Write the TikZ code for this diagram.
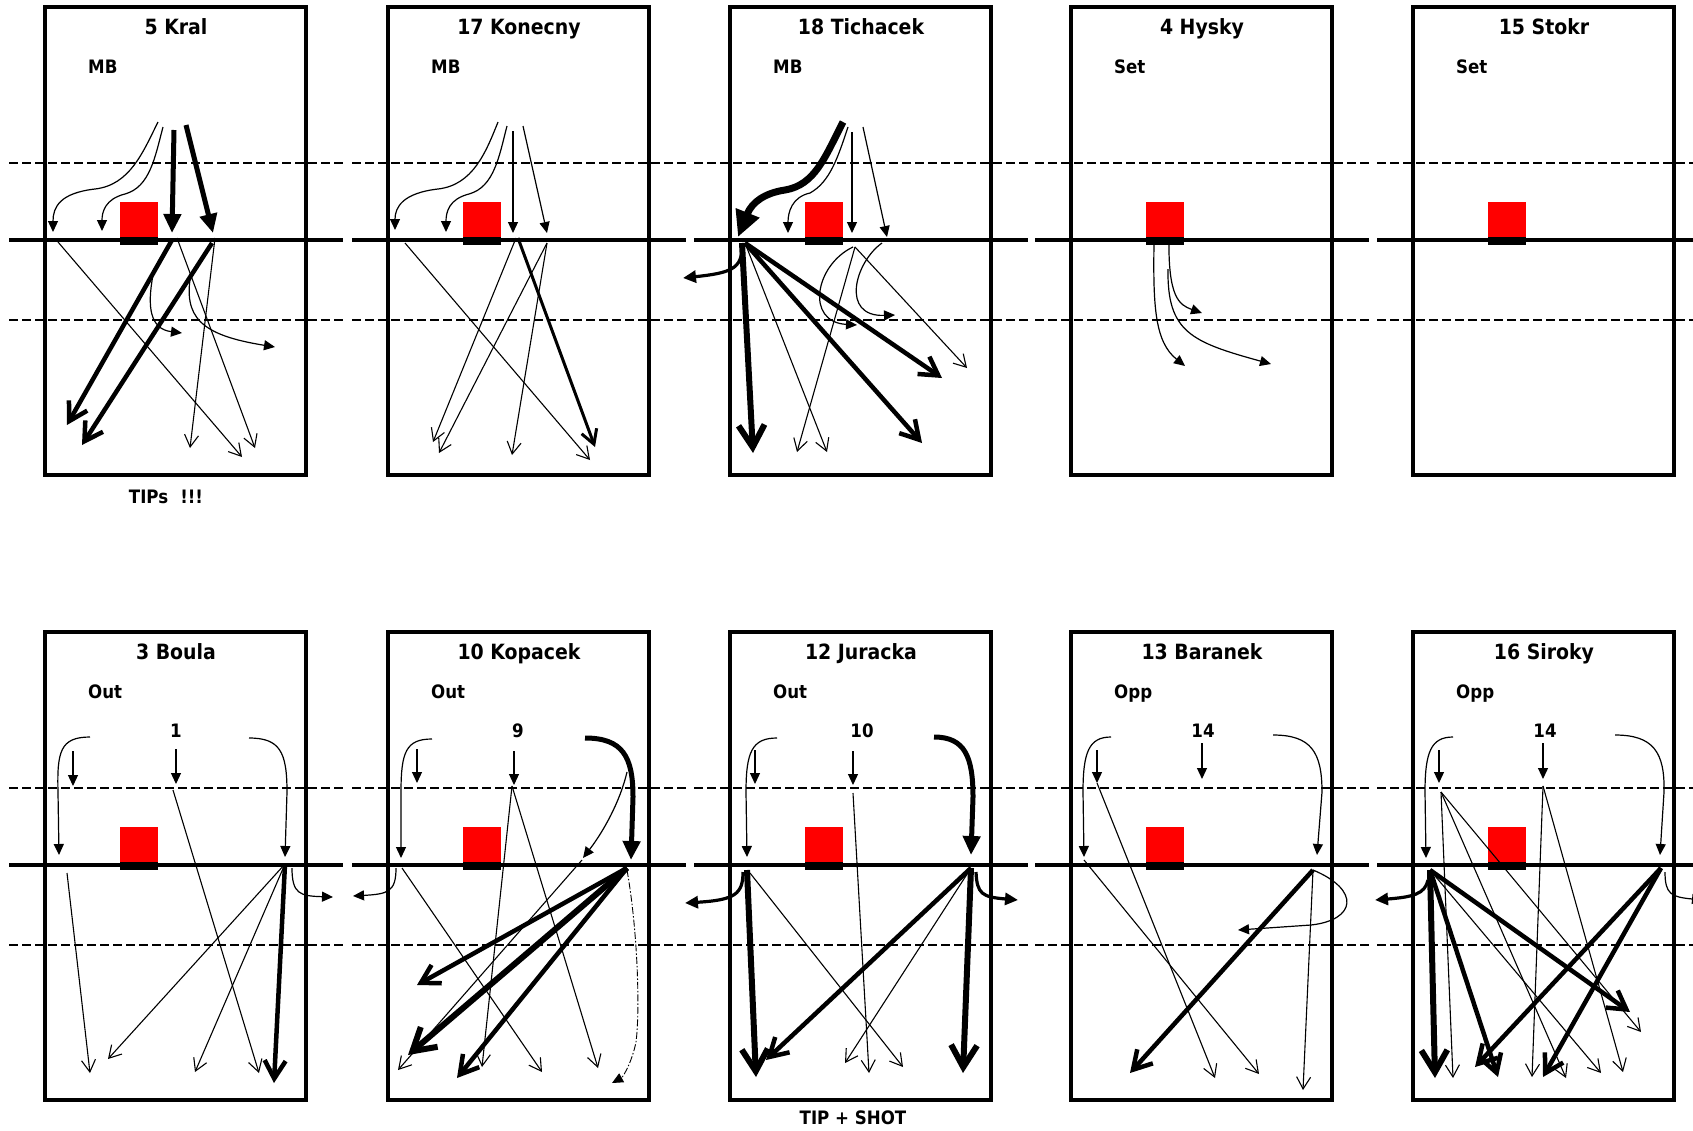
\documentclass[tikz,border=0pt]{standalone}
\usepackage{fontspec}
\setmainfont{DejaVu Sans Condensed}
\usetikzlibrary{arrows.meta}
\tikzset{
    court/.style={draw=black, line width=3.5pt},
    net line/.style={draw=black, line width=3.5pt},
    zone line/.style={draw=black, line width=2pt, dash pattern=on 9pt off 4pt},
    net block/.style={fill=red},
    block base/.style={fill=black},
    player name/.style={font=\fontsize{21}{25}\selectfont\bfseries, inner sep=0pt, anchor=base},
    player role/.style={font=\fontsize{18.5}{22}\selectfont\bfseries, inner sep=0pt, anchor=base west},
    set label/.style={font=\fontsize{18.5}{22}\selectfont\bfseries, inner sep=0pt, anchor=base},
    run/.style={line width=1.2pt, -{Triangle[length=11pt,width=10pt]}},
    run medium/.style={line width=3.2pt, -{Triangle[length=13pt,width=12pt]}},
    run heavy/.style={line width=5pt, -{Triangle[length=19pt,width=17pt]}},
    run huge/.style={line width=7pt, -{Triangle[length=26pt,width=24pt]}},
    run dashdot/.style={line width=0.9pt, dash pattern=on 7pt off 2pt on 1.5pt off 2pt, -{Triangle[length=11pt,width=10pt]}},
    shot/.style={line width=1.1pt, -{Straight Barb[length=12pt,width=14pt]}},
    shot medium/.style={line width=3pt, -{Straight Barb[length=14pt,width=16pt]}},
    shot heavy/.style={line width=4.5pt, -{Straight Barb[length=18pt,width=21pt]}},
    shot huge/.style={line width=6pt, -{Straight Barb[length=22pt,width=26pt]}},
}

\begin{document}
\begin{tikzpicture}[x=1pt, y=-1pt]
\useasboundingbox (0,0) rectangle (1693,1130);
\clip (0,0) rectangle (1693,1130);
\foreach \px/\py/\pname/\prole [count=\i] in {45/7/5 Kral/MB, 388/7/17 Konecny/MB, 730/7/18 Tichacek/MB, 1071/7/4 Hysky/Set, 1413/7/15 Stokr/Set, 45/632/3 Boula/Out, 388/632/10 Kopacek/Out, 730/632/12 Juracka/Out, 1071/632/13 Baranek/Opp, 1413/632/16 Siroky/Opp}{
  \begin{scope}[shift={(\px,\py)}]
    \draw[zone line] (-36,156) -- (298,156);
    \draw[zone line] (-36,313) -- (298,313);
    \draw[court] (0,0) rectangle (261,468);
    \fill[net block] (75,195) rectangle (113,231);
    \fill[block base] (75,230) rectangle (113,238);
    \draw[net line] (-36,233) -- (298,233);
    \node[player name] (name\i) at (131,27) {\pname};
    \node[player role] (role\i) at (43,66) {\prole};
  \end{scope}
}
\node[set label] (tips) at (166,503) {TIPs\hspace{12pt}!!!};
\node[set label] (tipshot) at (853,1124) {TIP + SHOT};

\begin{scope}[shift={(45,7)}]
\draw[run] (113,115) .. controls (98,145) and (85,178) .. (50,182) .. controls (15,186) and (8,200) .. (8,225);
\draw[run] (118,120) .. controls (110,150) and (105,180) .. (80,187) .. controls (60,192) and (57,205) .. (57,224);
\draw[run heavy] (129,123) -- (127,226);
\draw[run heavy] (141,118) -- (168,226);
\draw[shot] (13,235) -- (197,450);
\draw[shot heavy] (127,233) -- (22,418);
\draw[shot heavy] (167,236) -- (37,438);
\draw[shot] (132,231) -- (210,441);
\draw[shot] (170,231) -- (145,441);
\draw[run] (108,268) .. controls (102,300) and (105,322) .. (137,326);
\draw[run] (146,266) .. controls (138,310) and (155,328) .. (230,340);
\end{scope}

\begin{scope}[shift={(388,7)}]
\draw[run] (110,115) .. controls (98,145) and (85,178) .. (50,182) .. controls (15,186) and (7,200) .. (7,223);
\draw[run] (119,119) .. controls (111,150) and (106,180) .. (81,187) .. controls (61,192) and (58,205) .. (58,225);
\draw[run] (125,124) -- (125,226);
\draw[run] (135,119) -- (159,226);
\draw[shot] (17,236) -- (202,453);
\draw[shot] (128,231) -- (45,435);
\draw[shot] (159,236) -- (51,446);
\draw[shot] (159,236) -- (124,448);
\draw[shot medium] (130,231) -- (207,440);
\end{scope}

\begin{scope}[shift={(730,7)}]
\draw[run huge] (113,115) .. controls (95,150) and (85,178) .. (55,183) .. controls (35,186) and (22,195) .. (8,230);
\draw[run] (118,120) .. controls (108,150) and (100,175) .. (80,186) .. controls (62,190) and (58,205) .. (58,226);
\draw[run] (122,125) -- (122,226);
\draw[run] (133,120) -- (157,230);
\draw[run medium] (12,240) .. controls (12,262) and (0,266) .. (-47,271);
\draw[shot huge] (12,236) -- (23,446);
\draw[shot] (15,236) -- (97,445);
\draw[shot heavy] (15,236) -- (192,436);
\draw[shot heavy] (15,236) -- (212,371);
\draw[shot] (125,240) -- (237,361);
\draw[shot] (125,240) -- (67,445);
\draw[run] (123,240) .. controls (85,258) and (75,315) .. (127,318);
\draw[run] (152,236) .. controls (125,255) and (110,310) .. (165,308);
\end{scope}

\begin{scope}[shift={(1071,7)}]
\draw[run] (83,236) .. controls (82,300) and (84,335) .. (114,359);
\draw[run] (98,231) .. controls (97,290) and (108,298) .. (131,306);
\draw[run] (97,262) .. controls (96,325) and (120,335) .. (200,357);
\end{scope}

\begin{scope}[shift={(45,632)}]
\node[set label] (num1) at (131,105) {1};
\draw[run] (45,105) .. controls (15,105) and (12,120) .. (13,160) -- (14,223);
\draw[run] (28,119) -- (28,154);
\draw[run] (131,117) -- (131,152);
\draw[run] (204,106) .. controls (235,106) and (242,120) .. (242,160) -- (240,225);
\draw[shot] (22,241) -- (45,441);
\draw[shot] (128,158) -- (214,441);
\draw[shot] (240,232) -- (63,427);
\draw[shot] (240,232) -- (150,440);
\draw[shot heavy] (240,232) -- (229,451);
\draw[run] (247,236) .. controls (247,262) and (255,264) .. (288,265);
\end{scope}

\begin{scope}[shift={(388,632)}]
\node[set label] (num9) at (130,105) {9};
\draw[run] (44,107) .. controls (18,107) and (13,120) .. (13,160) -- (13,226);
\draw[run] (29,117) -- (29,151);
\draw[run] (126,119) -- (126,153);
\draw[run heavy] (197,106) .. controls (235,106) and (245,125) .. (245,165) -- (243,228);
\draw[run] (239,140) .. controls (232,170) and (215,200) .. (195,226);
\draw[run] (8,236) .. controls (8,260) and (0,262) .. (-35,264);
\draw[shot] (14,236) -- (154,440);
\draw[shot] (124,154) -- (94,435);
\draw[shot] (124,154) -- (210,436);
\draw[shot] (194,228) -- (10,438);
\draw[shot heavy] (239,236) -- (29,353);
\draw[shot huge] (239,236) -- (20,423);
\draw[shot heavy] (239,236) -- (69,446);
\draw[run dashdot] (239,238) .. controls (250,300) and (252,380) .. (248,410) .. controls (244,430) and (235,445) .. (224,451);
\end{scope}

\begin{scope}[shift={(730,632)}]
\node[set label] (num10) at (132,105) {10};
\draw[run] (47,106) .. controls (22,106) and (16,120) .. (16,160) -- (17,225);
\draw[run] (25,118) -- (25,152);
\draw[run] (123,119) -- (123,153);
\draw[run heavy] (204,105) .. controls (235,105) and (243,125) .. (243,165) -- (241,223);
\draw[run medium] (13,240) .. controls (13,262) and (5,268) .. (-45,271);
\draw[shot huge] (17,238) -- (26,445);
\draw[shot] (20,241) -- (173,435);
\draw[shot] (123,161) -- (139,441);
\draw[shot heavy] (241,236) -- (36,428);
\draw[shot] (241,236) -- (115,431);
\draw[shot huge] (241,236) -- (233,441);
\draw[run medium] (246,240) .. controls (247,262) and (252,265) .. (288,268);
\end{scope}

\begin{scope}[shift={(1071,632)}]
\node[set label] (num14a) at (132,105) {14};
\draw[run] (40,105) .. controls (18,105) and (12,120) .. (12,160) -- (13,225);
\draw[run] (26,118) -- (26,151);
\draw[run] (131,111) -- (131,147);
\draw[run] (202,103) .. controls (240,103) and (251,120) .. (251,160) -- (246,223);
\draw[shot] (13,228) -- (188,442);
\draw[shot] (26,151) -- (144,446);
\draw[shot heavy] (242,238) -- (59,441);
\draw[shot] (242,238) -- (232,458);
\draw[run] (242,238) .. controls (290,258) and (285,288) .. (240,293) -- (167,298);
\end{scope}

\begin{scope}[shift={(1413,632)}]
\node[set label] (num14b) at (132,105) {14};
\draw[run] (40,105) .. controls (18,105) and (12,120) .. (12,160) -- (13,226);
\draw[run] (26,118) -- (26,151);
\draw[run] (130,111) -- (130,147);
\draw[run] (202,103) .. controls (240,103) and (252,120) .. (251,160) -- (247,223);
\draw[run medium] (15,248) .. controls (12,262) and (0,265) .. (-38,268);
\draw[shot huge] (17,238) -- (22,446);
\draw[shot heavy] (17,238) -- (85,445);
\draw[shot heavy] (17,238) -- (217,380);
\draw[shot] (17,238) -- (188,441);
\draw[shot] (28,160) -- (40,446);
\draw[shot] (28,160) -- (153,446);
\draw[shot] (28,160) -- (228,400);
\draw[shot] (130,154) -- (119,445);
\draw[shot] (130,154) -- (210,440);
\draw[shot heavy] (248,236) -- (62,435);
\draw[shot heavy] (248,236) -- (130,445);
\draw[run] (252,240) .. controls (252,262) and (258,265) .. (290,268);
\end{scope}
\end{tikzpicture}
\end{document}
